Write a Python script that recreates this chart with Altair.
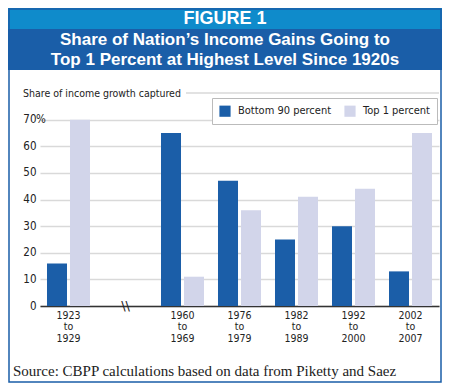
import altair as alt
import pandas as pd

# ---- data ----
periods = ["1923 to 1929", " ", "1960 to 1969", "1976 to 1979", "1982 to 1989", "1992 to 2000", "2002 to 2007"]
bar_periods = ["1923 to 1929", "1960 to 1969", "1976 to 1979", "1982 to 1989", "1992 to 2000", "2002 to 2007"]
bottom90 = [16, 65, 47, 25, 30, 13]
top1 = [70, 11, 36, 41, 44, 65]
series = ["Bottom 90 percent", "Top 1 percent"]
colors = ["#1b5ea8", "#d2d5ea"]
y_ticks = [0, 10, 20, 30, 40, 50, 60, 70]

title_top = "FIGURE 1"
title_lines = ["Share of Nation\u2019s Income Gains Going to", "Top 1 Percent at Highest Level Since 1920s"]
y_title = "Share of income growth captured"
source = "Source: CBPP calculations based on data from Piketty and Saez"

rows = []
for p, b, t in zip(bar_periods, bottom90, top1):
    rows.append({"period": p, "series": series[0], "value": b})
    rows.append({"period": p, "series": series[1], "value": t})
df = pd.DataFrame(rows)

W, H = 399, 213
NARROW = "DejaVu Sans Condensed, sans-serif"
one = pd.DataFrame({"k": [0]})

xscale = alt.Scale(domain=periods, paddingInner=0.2456, paddingOuter=0.1228)
yscale = alt.Scale(domain=[0, 80], nice=False)

xaxis = alt.Axis(title=None, labelAngle=0, ticks=False, domain=True,
                 domainColor="#333333", domainWidth=1.5, grid=False,
                 labelExpr="datum.label == ' ' ? '' : split(datum.label, ' ')",
                 labelLineHeight=11.5, labelPadding=4, labelFont=NARROW,
                 labelFontSize=10.5, labelColor="#222222")
yaxis = alt.Axis(title=None, values=y_ticks, grid=True, gridColor="#d9d9d9",
                 gridWidth=1.5, domain=False, ticks=False, labelPadding=4,
                 labelOverlap=False,
                 labelFont=NARROW, labelFontSize=11.5, labelColor="#222222")

bars = alt.Chart(df).mark_bar().encode(
    x=alt.X("period:N", scale=xscale, sort=periods, axis=xaxis),
    xOffset=alt.XOffset("series:N", scale=alt.Scale(domain=series, paddingInner=0.13)),
    y=alt.Y("value:Q", scale=yscale, axis=yaxis),
    color=alt.Color("series:N", scale=alt.Scale(domain=series, range=colors),
                    legend=alt.Legend(orient="none", legendX=172, legendY=5,
                                      direction="horizontal", title=None,
                                      symbolType="square", symbolSize=125,
                                      symbolStrokeWidth=0, labelFont=NARROW,
                                      labelFontSize=11, labelColor="#222222",
                                      fillColor="white", strokeColor="#bbbbbb",
                                      padding=7, columnPadding=12, labelOffset=7)),
)

# top gridline (80) that starts after the y title
grid80 = alt.Chart(one).mark_rule(color="#d9d9d9", strokeWidth=1.5).encode(
    y=alt.YDatum(80, type="quantitative", axis=yaxis), x=alt.value(146), x2=alt.value(W))

pct = alt.Chart(one).mark_text(text="%", align="left", baseline="middle",
                               font=NARROW, fontSize=11.5, color="#222222").encode(
    y=alt.YDatum(70, type="quantitative", axis=yaxis), x=alt.value(-4))

ytitle = alt.Chart(one).mark_text(text=y_title, align="left", baseline="alphabetic",
                                  font=NARROW, fontSize=10.5, color="#222222").encode(
    x=alt.value(-17), y=alt.value(4))

brk = alt.Chart(one).mark_text(text="\\\\", align="center", baseline="middle",
                               font="DejaVu Sans", fontSize=13, color="#222222").encode(
    x=alt.XDatum(" ", type="nominal", axis=xaxis),
    y=alt.YDatum(0, type="quantitative", axis=yaxis))

band1 = alt.Chart(one).mark_rect(color="#0f8bcb").encode(
    x=alt.value(-32), x2=alt.value(402), y=alt.value(-85), y2=alt.value(-64))
band2 = alt.Chart(one).mark_rect(color="#1a5ea8").encode(
    x=alt.value(-32), x2=alt.value(402), y=alt.value(-64), y2=alt.value(-23))
border = alt.Chart(one).mark_rect(fill=None, stroke="#1a5ea8", strokeWidth=1.5).encode(
    x=alt.value(-31), x2=alt.value(401), y=alt.value(-84), y2=alt.value(289))

t0 = alt.Chart(one).mark_text(text=title_top, align="center", baseline="alphabetic",
                              font="Liberation Sans", fontWeight="bold", fontSize=18,
                              color="white").encode(x=alt.value(185), y=alt.value(-69))
t1 = alt.Chart(one).mark_text(text=title_lines[0], align="center", baseline="alphabetic",
                              font="Liberation Sans", fontWeight="bold", fontSize=17,
                              color="white").encode(x=alt.value(185), y=alt.value(-48.5))
t2 = alt.Chart(one).mark_text(text=title_lines[1], align="center", baseline="alphabetic",
                              font="Liberation Sans", fontWeight="bold", fontSize=17,
                              color="white").encode(x=alt.value(185), y=alt.value(-28.5))
src = alt.Chart(one).mark_text(text=source, align="left", baseline="alphabetic",
                               font="Liberation Serif", fontSize=15,
                               color="#222222").encode(x=alt.value(-27), y=alt.value(283))

chart = alt.layer(band1, band2, border, t0, t1, t2, grid80, bars, pct, ytitle, brk, src).properties(
    width=W, height=H,
    autosize=alt.AutoSizeParams(type="none"),
    padding={"left": 32, "top": 85, "right": 3, "bottom": 77},
    background="white",
).configure_view(stroke=None)

chart.save("out.html", embed_options={"renderer": "svg", "actions": False})
